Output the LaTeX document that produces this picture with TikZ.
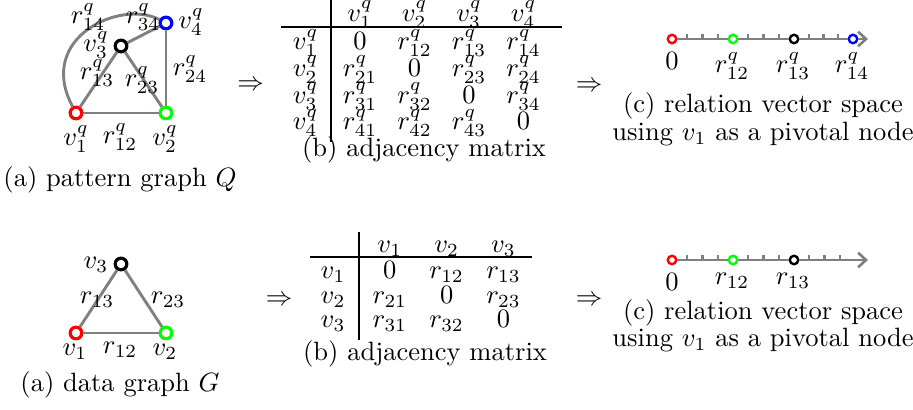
\documentclass[tikz,border=0pt]{standalone}
\usetikzlibrary{positioning}
\usetikzlibrary{calc, matrix, arrows.meta}

\begin{document}
\begin{tikzpicture}[x=0.3774pt,y=-0.3774pt,
  vtx/.style={circle,draw,fill=white,line width=1.2pt,minimum size=4.4pt,inner sep=0pt},
  vdot/.style={circle,draw,fill=white,line width=0.9pt,minimum size=3.2pt,inner sep=0pt},
  link/.style={gray,line width=1.1pt},
  vline/.style={gray,line width=1pt},
  notch/.style={gray,line width=0.9pt},
  lbl/.style={inner sep=0pt},
  capt/.style={inner sep=0pt,anchor=base},
  adj/.style={matrix of math nodes,inner sep=0pt,anchor=north west,nodes={inner sep=0pt,anchor=center}}]
\useasboundingbox (0,0) rectangle (913,410);

% pattern graph Q
\node[vtx,draw=red] (qv1) at (76,113) {};
\node[vtx,draw=green] (qv2) at (166,113) {};
\node[vtx] (qv3) at (121,46) {};
\node[vtx,draw=blue] (qv4) at (166,23) {};
\draw[link] (qv1) -- (qv2);
\draw[link] (qv1) -- (qv3);
\draw[link] (qv3) -- (qv2);
\draw[link] (qv2) -- (qv4);
\draw[link] (qv3) -- (qv4);
\draw[link] (qv1) .. controls +(-40,-75) and +(-46,-24) .. (qv4);
\node[lbl] (ql14) at (88,17) {$r^q_{14}$};
\node[lbl] (ql34) at (143,17) {$r^q_{34}$};
\node[lbl] (qlv3) at (96,45) {$v^q_3$};
\node[lbl] (ql13) at (97,73) {$r^q_{13}$};
\node[lbl] (ql23) at (142,80) {$r^q_{23}$};
\node[lbl] (ql24) at (190,69) {$r^q_{24}$};
\node[lbl] (qlv1) at (76,139) {$v^q_1$};
\node[lbl] (ql12) at (120,137) {$r^q_{12}$};
\node[lbl] (qlv2) at (165,139) {$v^q_2$};
\node[lbl] (qlv4) at (191,22) {$v^q_4$};
\node[capt] (qcap) at (120,187) {(a) pattern graph $Q$};

\node (qar1) at (250.5,86) {$\Rightarrow$};

% adjacency matrix of Q
\matrix (qm) [adj,nodes={minimum width=20.57pt,text height=7pt,text depth=3.06pt}] at (277.75,2.5) {
      & v^q_1    & v^q_2    & v^q_3    & v^q_4    \\[0.6pt]
v^q_1 & 0        & r^q_{12} & r^q_{13} & r^q_{14} \\
v^q_2 & r^q_{21} & 0        & r^q_{23} & r^q_{24} \\
v^q_3 & r^q_{31} & r^q_{32} & 0        & r^q_{34} \\
v^q_4 & r^q_{41} & r^q_{42} & r^q_{43} & 0        \\
};
\draw (331,0) -- (331,142);
\draw (281,27) -- (562,27);
\node[capt] (qmcap) at (424,157) {(b) adjacency matrix};

\node (qar2) at (589,87) {$\Rightarrow$};

% relation vector space of Q
\node[vdot,draw=red] (qp0) at (672,39) {};
\node[vdot,draw=green] (qp12) at (733,39) {};
\node[vdot] (qp13) at (794,39) {};
\node[vdot,draw=blue] (qp14) at (853,39) {};
\coordinate (qend) at (868,39);
\foreach \a/\b in {qp0/qp12,qp12/qp13,qp13/qp14} {
  \draw[vline] (\a) -- (\b);
  \foreach \t in {0.25,0.5,0.75}
    \draw[notch] ($(\a)!\t!(\b)$) -- ++(0,-5);
}
\draw[vline,-{Straight Barb[length=3pt,width=5.5pt]}] (qp14) -- (qend);
\node[lbl] (qt0) at (672,61) {$0$};
\node[lbl] (qt12) at (732,66) {$r^q_{12}$};
\node[lbl] (qt13) at (793,66) {$r^q_{13}$};
\node[lbl] (qt14) at (852,66) {$r^q_{14}$};
\node[lbl,align=center] (qvcap) at (763,119.25) {(c) relation vector space\\[-1.7pt]using $v_1$ as a pivotal node};

% data graph G
\node[vtx,draw=red] (gv1) at (76,333) {};
\node[vtx,draw=green] (gv2) at (166,333) {};
\node[vtx] (gv3) at (121,264) {};
\draw[link] (gv1) -- (gv2);
\draw[link] (gv1) -- (gv3);
\draw[link] (gv3) -- (gv2);
\node[lbl] (glv3) at (96,265) {$v_3$};
\node[lbl] (gl13) at (97,300) {$r_{13}$};
\node[lbl] (gl23) at (168,300) {$r_{23}$};
\node[lbl] (glv1) at (75,352) {$v_1$};
\node[lbl] (gl12) at (120,350) {$r_{12}$};
\node[lbl] (glv2) at (165,352) {$v_2$};
\node[capt] (gcap) at (120,392) {(a) data graph $G$};

\node (gar1) at (279,301) {$\Rightarrow$};

% adjacency matrix of G
\matrix (gm) [adj,nodes={minimum width=21.44pt,text height=6.3pt,text depth=2.95pt}] at (304.1,235.3) {
    & v_1    & v_2    & v_3    \\[0.57pt]
v_1 & 0      & r_{12} & r_{13} \\
v_2 & r_{21} & 0      & r_{23} \\
v_3 & r_{31} & r_{32} & 0      \\
};
\draw (359,232) -- (359,340);
\draw (310,257) -- (532,257);
\node[capt] (gmcap) at (425,360.5) {(b) adjacency matrix};

\node (gar2) at (589,301) {$\Rightarrow$};

% relation vector space of G
\node[vdot,draw=red] (gp0) at (672,260) {};
\node[vdot,draw=green] (gp12) at (733,260) {};
\node[vdot] (gp13) at (794,260) {};
\coordinate (gq) at (855,260);
\coordinate (gend) at (868,260);
\foreach \a/\b in {gp0/gp12,gp12/gp13,gp13/gq} {
  \foreach \t in {0.25,0.5,0.75}
    \draw[notch] ($(\a)!\t!(\b)$) -- ++(0,-5);
}
\draw[vline] (gp0) -- (gp12);
\draw[vline] (gp12) -- (gp13);
\draw[vline,-{Straight Barb[length=3pt,width=5.5pt]}] (gp13) -- (gend);
\node[lbl] (gt0) at (672,282) {$0$};
\node[lbl] (gt12) at (732,281) {$r_{12}$};
\node[lbl] (gt13) at (793,281) {$r_{13}$};
\node[lbl,align=center] (gvcap) at (763,325.9) {(c) relation vector space\\[-1.7pt]using $v_1$ as a pivotal node};

\end{tikzpicture}
\end{document}
